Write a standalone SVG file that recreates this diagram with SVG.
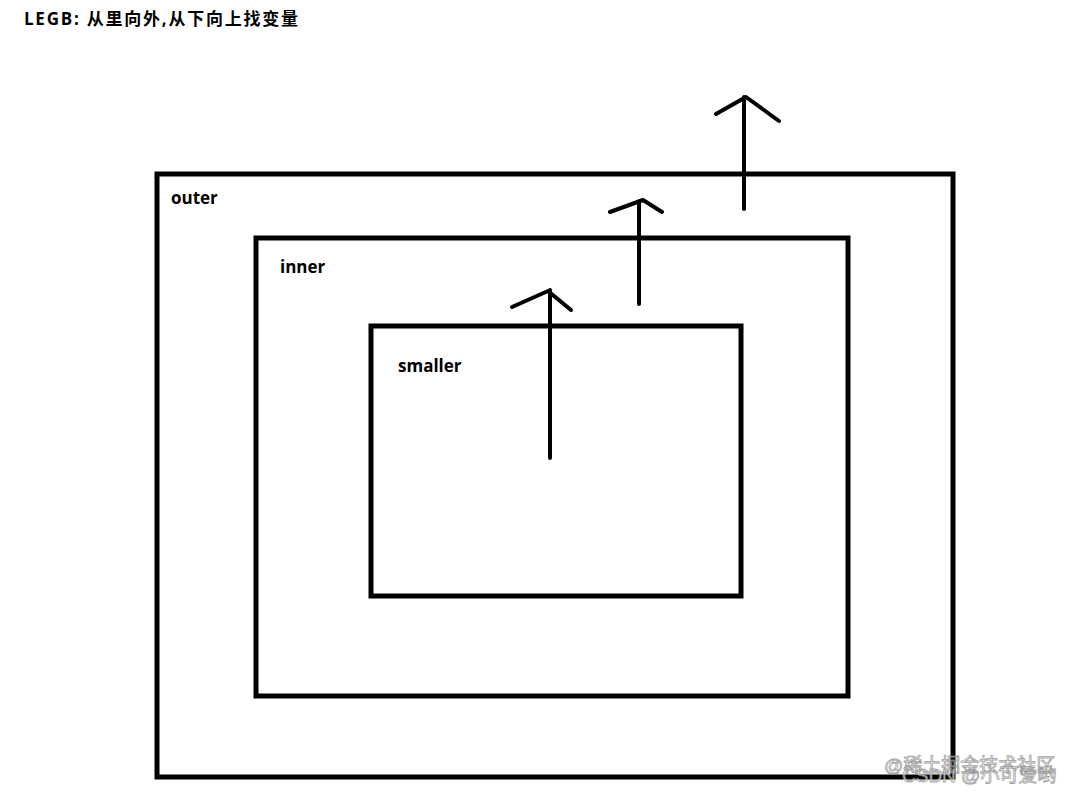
<svg xmlns="http://www.w3.org/2000/svg" width="1068" height="797" viewBox="0 0 1068 797">
<style>
.box{fill:none;stroke:#000;stroke-width:5}
.ar{fill:none;stroke:#000;stroke-width:4;stroke-linecap:round;stroke-linejoin:round}
.lb{font-family:"Open Sans","Noto Sans CJK SC",sans-serif;font-weight:bold;font-size:17px;fill:#000}
.wm{font-family:"Liberation Sans","Noto Sans CJK SC",sans-serif;font-size:19px;fill:#fff;stroke:#888;stroke-width:0.8;opacity:0.8}
</style>
<rect width="1068" height="797" fill="#fff"/>
<text class="lb" x="24" y="25" textLength="274">LEGB: 从里向外,从下向上找变量</text>
<g id="outer"><rect class="box" x="157" y="174" width="796" height="603"/><text class="lb" x="171" y="204">outer</text></g>
<g id="inner"><rect class="box" x="256" y="238" width="592" height="458"/><text class="lb" x="280" y="273">inner</text></g>
<g id="smaller"><rect class="box" x="371" y="326" width="370" height="270"/><text class="lb" x="398" y="372">smaller</text></g>
<g id="connectors">
<path class="ar" d="M550 458V290M512 307L548 291L571 310"/>
<path class="ar" d="M639 304V201M610 212L643 200L662 212"/>
<path class="ar" d="M744 209V97M716 114L746 97L779 121"/>
</g>
<text class="wm" x="884" y="772">@稀土掘金技术社区</text>
<text class="wm" x="902" y="782">CSDN @小可爱哟</text>
</svg>
